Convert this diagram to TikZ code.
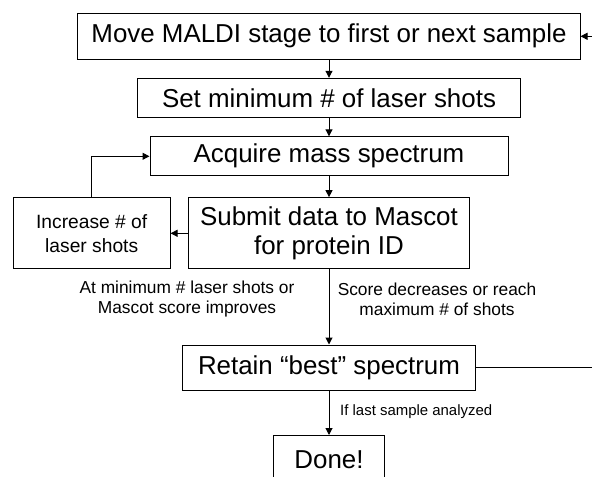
\documentclass[tikz,border=0pt]{standalone}
\usepackage{fontspec}
\setmainfont{Liberation Sans}
\usetikzlibrary{arrows.meta}
\begin{document}
\begin{tikzpicture}[x=1bp,y=-1bp,
  box/.style={draw, line width=1bp, inner sep=0pt, align=center,
    font=\fontsize{26}{30}\selectfont},
  smallbox/.style={box, font=\fontsize{19.3}{24.3}\selectfont},
  note/.style={inner sep=0pt, align=center, font=\fontsize{17.4}{20}\selectfont},
  tinynote/.style={inner sep=0pt, font=\fontsize{15}{18}\selectfont},
  link/.style={line width=1bp},
  flow/.style={link, -{Triangle[length=7bp,width=7bp]}}]
\useasboundingbox (0,0) rectangle (592,477);

% main column of steps
\node[box, minimum width=502bp, minimum height=46bp] (move) at (329,36.3)
  {Move MALDI stage to first or next sample};
\node[box, minimum width=383.6bp, minimum height=39.4bp] (setmin) at (329,98)
  {Set minimum \# of laser shots};
\node[box, minimum width=358bp, minimum height=39bp] (acquire) at (329,156.3)
  {Acquire mass spectrum};
\node[box, minimum width=280.3bp, minimum height=71.3bp] (submit) at (329,233.3)
  {Submit data to Mascot\\for protein ID};
\node[smallbox, minimum width=156.7bp, minimum height=71.3bp] (increase) at (91.7,233.3)
  {Increase \# of\\laser shots};
\node[box, minimum width=293.7bp, minimum height=45bp] (retain) at (329,367.5)
  {Retain “best” spectrum};
\node[box, minimum width=110.3bp, minimum height=49bp] (done) at (329,460)
  {Done!};

% branch labels
\node[note] (lblup) at (187,299) {At minimum \# laser shots or\\Mascot score improves};
\node[note] (lbldown) at (437,299) {Score decreases or reach\\maximum \# of shots};
\node[tinynote, anchor=west] (lbllast) at (340,411.7) {If last sample analyzed};

% loose ends at the right border
\coordinate (backin) at (592,36.3);
\coordinate (backout) at (592,367.5);

% connectors
\draw[flow] (move) -- (setmin);
\draw[flow] (setmin) -- (acquire);
\draw[flow] (acquire) -- (submit);
\draw[flow] (submit) -- (increase);
\draw[flow] (increase.north) |- (acquire.west);
\draw[flow] (submit) -- (retain);
\draw[flow] (retain) -- (done);
\draw[link] (retain.east) -- (backout);
\draw[flow] (backin) -- (move.east);
\end{tikzpicture}
\end{document}
